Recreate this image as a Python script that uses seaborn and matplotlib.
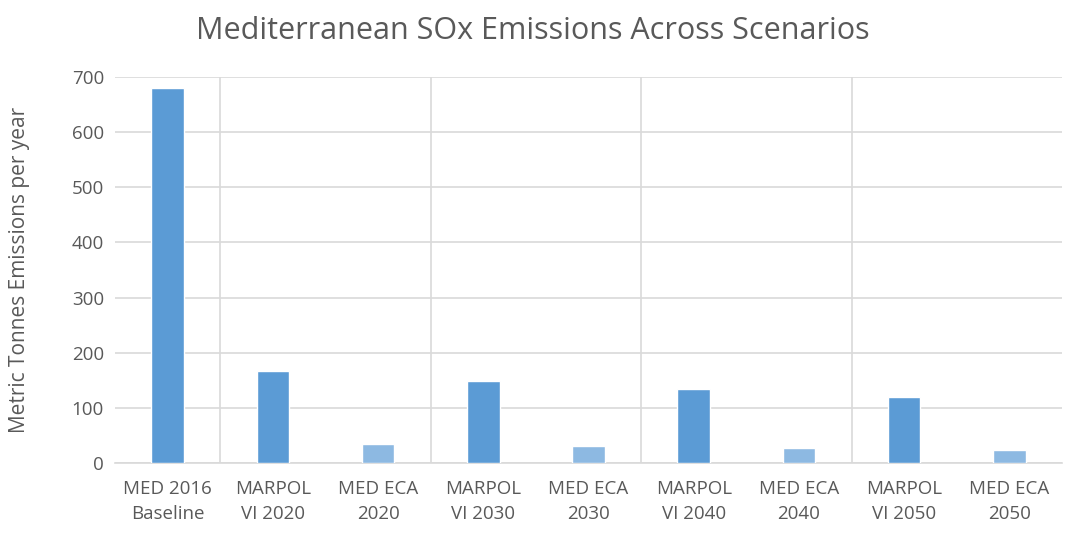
import numpy as np
import pandas as pd
import seaborn as sns
import matplotlib.pyplot as plt

# data
scenarios = ["MED 2016\nBaseline", "MARPOL\nVI 2020", "MED ECA\n2020",
             "MARPOL\nVI 2030", "MED ECA\n2030", "MARPOL\nVI 2040",
             "MED ECA\n2040", "MARPOL\nVI 2050", "MED ECA\n2050"]
emissions = [680, 166, 34, 149, 31, 134, 28, 119, 24]
bar_colors = ["#5B9BD5", "#5B9BD5", "#8DB9E2", "#5B9BD5", "#8DB9E2",
              "#5B9BD5", "#8DB9E2", "#5B9BD5", "#8DB9E2"]
y_ticks = [0, 100, 200, 300, 400, 500, 600, 700]

df = pd.DataFrame({"Scenario": scenarios, "Emissions": emissions})

sns.set_style("white")
plt.rcParams["font.family"] = ["Open Sans", "DejaVu Sans"]

text_col = "#595959"
grid_col = "#D9D9D9"

fig = plt.figure(figsize=(10.65, 5.35), dpi=100)
ax = fig.add_axes([115 / 1065, 1 - 463 / 535, (1062 - 115) / 1065, (463 - 77) / 535])

sns.barplot(
    data=df,
    x="Scenario",
    y="Emissions",
    hue="Scenario",
    palette=bar_colors,
    legend=False,
    width=0.31,
    saturation=1,
    ax=ax,
    zorder=3
)

ax.set_ylim(0, 700)
ax.set_xlim(-0.5, len(scenarios) - 0.5)
ax.set_yticks(y_ticks)
ax.yaxis.grid(True, color=grid_col, linewidth=1.2, zorder=0)
for xs in [0.5, 2.5, 4.5, 6.5]:
    ax.axvline(xs, color=grid_col, linewidth=1.2, zorder=0)

for side in ["top", "right", "left"]:
    ax.spines[side].set_visible(False)
ax.spines["bottom"].set_color(grid_col)
ax.spines["bottom"].set_linewidth(1.2)

ax.tick_params(axis="y", length=0, colors=text_col, labelsize=13.5, pad=8)
ax.tick_params(axis="x", length=0, colors=text_col, labelsize=13.5, pad=12)
for lbl in ax.get_xticklabels():
    lbl.set_linespacing(1.55)
ax.set_xlabel("")
ax.set_ylabel("Metric Tonnes Emissions per year", color=text_col, fontsize=15, labelpad=30)
fig.suptitle("Mediterranean SOx Emissions Across Scenarios", color=text_col,
             fontsize=22, y=0.97)

plt.savefig("out.png", dpi=100)
